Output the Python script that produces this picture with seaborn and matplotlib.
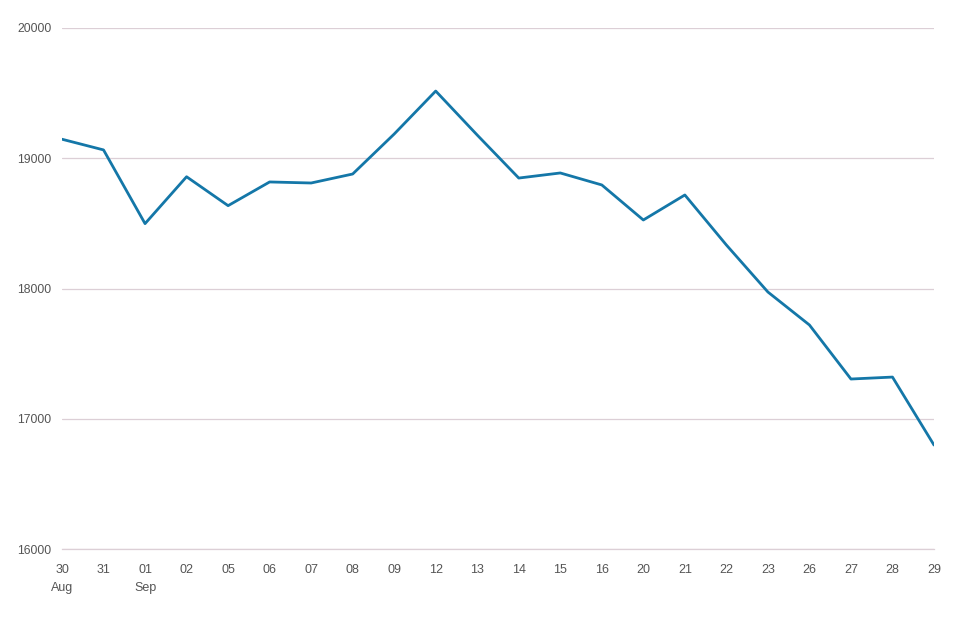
import matplotlib
matplotlib.use("Agg")
import matplotlib.pyplot as plt
import seaborn as sns
import pandas as pd

days = ["30", "31", "01", "02", "05", "06", "07", "08", "09", "12", "13",
        "14", "15", "16", "20", "21", "22", "23", "26", "27", "28", "29"]
months = {"30": "Aug", "01": "Sep"}
values = [19146, 19064, 18498, 18858, 18636, 18818, 18810, 18879, 19186, 19516, 19178,
          18848, 18887, 18795, 18526, 18718, 18334, 17973, 17720, 17305, 17320, 16798]

df = pd.DataFrame({"idx": range(len(days)), "value": values})

sns.set_theme(style="white")
plt.rcParams['font.family'] = ['Liberation Sans', 'DejaVu Sans']

fig = plt.figure(figsize=(9.72, 6.17), dpi=100)
ax = fig.add_axes([62/972, 1-549/617, (934-62)/972, (549-28)/617])

sns.lineplot(data=df, x="idx", y="value", ax=ax, color="#1477a8", linewidth=2.0)

ax.set_xlim(0, len(days)-1)
ax.set_ylim(16000, 20000)
ax.set_yticks([16000, 17000, 18000, 19000, 20000])
ax.set_yticklabels(["16000", "17000", "18000", "19000", "20000"])
ax.yaxis.grid(True, color="#dccfd6", linewidth=0.9)
ax.xaxis.grid(False)
labels = [d + ("\n" + months[d] if d in months else "") for d in days]
ax.set_xticks(list(range(len(days))))
ax.set_xticklabels(labels, va="top", linespacing=1.6)
ax.tick_params(axis="x", length=5, width=0.8, color="#dddddd", colors="#555555", labelsize=9, pad=6)
ax.tick_params(axis="x", color="#dddddd")
ax.tick_params(axis="y", length=0, colors="#555555", labelsize=8.8, pad=7.5)
for lab in ax.get_yticklabels():
    lab.set_horizontalalignment("right")
ax.set_xlabel("")
ax.set_ylabel("")
for s in ["top", "right", "left"]:
    ax.spines[s].set_visible(False)
ax.spines["bottom"].set_color("#dccfd6")
ax.spines["bottom"].set_linewidth(0.9)
ax.set_axisbelow(True)

fig.savefig("out.png", dpi=100, facecolor="white")
